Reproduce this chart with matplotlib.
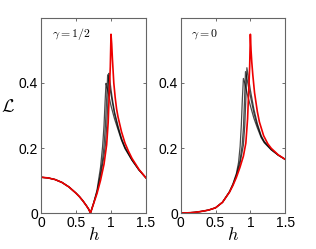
import matplotlib
matplotlib.use("Agg")
import matplotlib.pyplot as plt

plt.rcParams['mathtext.fontset'] = 'cm'
plt.rcParams['font.family'] = ['Liberation Sans', 'DejaVu Sans']

# ---- data: gamma = 1/2 (left panel) ----
h_red_a = [0.0, 0.1, 0.2, 0.3, 0.4, 0.5, 0.55, 0.6, 0.65, 0.68, 0.707, 0.75, 0.8, 0.85,
           0.9, 0.938, 0.96, 0.976, 0.99, 1.0, 1.01, 1.02, 1.04, 1.06, 1.08, 1.1, 1.15,
           1.2, 1.25, 1.3, 1.4, 1.5]
L_red_a = [0.110, 0.108, 0.103, 0.094, 0.080, 0.061, 0.050, 0.037, 0.022, 0.012, 0.0, 0.028,
           0.060, 0.100, 0.150, 0.210, 0.280, 0.373, 0.450, 0.550, 0.520, 0.475, 0.400, 0.355,
           0.320, 0.296, 0.250, 0.215, 0.190, 0.168, 0.134, 0.108]

h_blk_a1 = [0.0, 0.1, 0.2, 0.3, 0.4, 0.5, 0.55, 0.6, 0.65, 0.68, 0.707, 0.75, 0.8, 0.85,
            0.88, 0.9, 0.915, 0.929, 0.94, 0.96, 0.98, 1.0, 1.05, 1.1, 1.15, 1.2, 1.3, 1.4, 1.5]
L_blk_a1 = [0.110, 0.108, 0.103, 0.094, 0.080, 0.061, 0.050, 0.037, 0.022, 0.012, 0.0, 0.030,
            0.070, 0.140, 0.205, 0.268, 0.340, 0.399, 0.390, 0.370, 0.350, 0.330, 0.290,
            0.257, 0.224, 0.198, 0.162, 0.132, 0.108]
h_blk_a2 = [0.0, 0.1, 0.2, 0.3, 0.4, 0.5, 0.55, 0.6, 0.65, 0.68, 0.707, 0.75, 0.8, 0.85,
            0.88, 0.9, 0.92, 0.94, 0.952, 0.96, 0.98, 1.0, 1.02, 1.05, 1.1, 1.15, 1.2, 1.3,
            1.4, 1.5]
L_blk_a2 = [0.110, 0.108, 0.103, 0.094, 0.080, 0.061, 0.050, 0.037, 0.022, 0.012, 0.0, 0.029,
            0.066, 0.122, 0.165, 0.205, 0.268, 0.360, 0.425, 0.415, 0.390, 0.365, 0.340, 0.305,
            0.262, 0.226, 0.200, 0.163, 0.132, 0.108]
h_blk_a3 = [0.0, 0.1, 0.2, 0.3, 0.4, 0.5, 0.55, 0.6, 0.65, 0.68, 0.707, 0.75, 0.8, 0.85,
            0.9, 0.92, 0.94, 0.955, 0.965, 0.971, 0.98, 1.0, 1.02, 1.05, 1.1, 1.15, 1.2, 1.3,
            1.4, 1.5]
L_blk_a3 = [0.110, 0.108, 0.103, 0.094, 0.080, 0.061, 0.050, 0.037, 0.022, 0.012, 0.0, 0.028,
            0.063, 0.112, 0.175, 0.209, 0.270, 0.340, 0.400, 0.430, 0.415, 0.380, 0.350, 0.312,
            0.268, 0.230, 0.203, 0.164, 0.133, 0.108]

# ---- data: gamma = 0 (right panel) ----
h_red_b = [0.0, 0.1, 0.2, 0.3, 0.4, 0.5, 0.6, 0.7, 0.75, 0.8, 0.85, 0.9, 0.935, 0.96,
           0.975, 0.99, 1.0, 1.01, 1.02, 1.035, 1.06, 1.1, 1.13, 1.19, 1.25, 1.3, 1.4, 1.5]
L_red_b = [0.0, 0.0005, 0.002, 0.005, 0.009, 0.016, 0.033, 0.064, 0.085, 0.110, 0.140,
           0.175, 0.215, 0.290, 0.370, 0.450, 0.550, 0.500, 0.465, 0.425, 0.370, 0.312,
           0.280, 0.238, 0.213, 0.199, 0.179, 0.165]

h_blk_b1 = [0.0, 0.1, 0.2, 0.3, 0.4, 0.5, 0.6, 0.7, 0.75, 0.8, 0.83, 0.853, 0.87, 0.885,
            0.9, 0.92, 0.95, 1.0, 1.05, 1.1, 1.155, 1.2, 1.3, 1.4, 1.5]
L_blk_b1 = [0.0, 0.0005, 0.002, 0.005, 0.009, 0.016, 0.033, 0.066, 0.090, 0.122, 0.155,
            0.205, 0.270, 0.350, 0.414, 0.400, 0.370, 0.330, 0.292, 0.262, 0.232, 0.216,
            0.194, 0.178, 0.165]
h_blk_b2 = [0.0, 0.1, 0.2, 0.3, 0.4, 0.5, 0.6, 0.7, 0.75, 0.8, 0.85, 0.882, 0.9, 0.915,
            0.93, 0.95, 0.98, 1.0, 1.05, 1.09, 1.155, 1.2, 1.3, 1.4, 1.5]
L_blk_b2 = [0.0, 0.0005, 0.002, 0.005, 0.009, 0.016, 0.033, 0.065, 0.088, 0.118, 0.160,
            0.209, 0.260, 0.340, 0.435, 0.415, 0.380, 0.360, 0.308, 0.276, 0.235, 0.218,
            0.195, 0.178, 0.165]
h_blk_b3 = [0.0, 0.1, 0.2, 0.3, 0.4, 0.5, 0.6, 0.7, 0.75, 0.8, 0.85, 0.9, 0.92, 0.935,
            0.95, 0.97, 1.0, 1.05, 1.1, 1.155, 1.2, 1.3, 1.4, 1.5]
L_blk_b3 = [0.0, 0.0005, 0.002, 0.005, 0.009, 0.016, 0.033, 0.064, 0.086, 0.114, 0.150,
            0.209, 0.270, 0.350, 0.447, 0.420, 0.378, 0.320, 0.275, 0.238, 0.220, 0.196,
            0.178, 0.165]

panel_labels = [r'$\gamma=1/2$', r'$\gamma=0$']
x_ticks = [0, 0.5, 1, 1.5]
x_ticklabels = ['0', '0.5', '1', '1.5']
y_ticks = [0, 0.2, 0.4]
y_ticklabels = ['0', '0.2', '0.4']

fig = plt.figure(figsize=(3.16, 2.49), dpi=100)
W, H = 316, 249
axA = fig.add_axes([41 / W, 1 - 213 / H, 105 / W, 195 / H])
axB = fig.add_axes([180.7 / W, 1 - 213 / H, 104.5 / W, 195 / H])

panels = [
    (axA, [(h_blk_a1, L_blk_a1), (h_blk_a2, L_blk_a2), (h_blk_a3, L_blk_a3)],
     h_red_a, L_red_a, panel_labels[0]),
    (axB, [(h_blk_b1, L_blk_b1), (h_blk_b2, L_blk_b2), (h_blk_b3, L_blk_b3)],
     h_red_b, L_red_b, panel_labels[1]),
]
for ax, blks, hr, Lr, lab in panels:
    for hb, Lb in blks:
        ax.plot(hb, Lb, color='black', lw=0.9, alpha=0.7)
    ax.plot(hr, Lr, color='#ee0000', lw=1.2)
    ax.set_xlim(0, 1.5)
    ax.set_ylim(0, 0.6)
    ax.set_xticks(x_ticks)
    ax.set_xticklabels(x_ticklabels)
    ax.set_yticks(y_ticks)
    ax.set_yticklabels(y_ticklabels)
    ax.tick_params(direction='in', length=2.5, width=0.6, top=True, right=True,
                   labelsize=10, pad=2, color='#555555')
    for s in ax.spines.values():
        s.set_color('#666666')
        s.set_linewidth(0.8)
    ax.text(0.1, 0.92, lab, transform=ax.transAxes, fontsize=8.5, va='center', ha='left')
    ax.set_xlabel(r'$h$', fontsize=13, labelpad=-2)

axA.set_ylabel(r'$\mathcal{L}$', fontsize=13, rotation=0, labelpad=8)

fig.savefig('out.png', dpi=100)
